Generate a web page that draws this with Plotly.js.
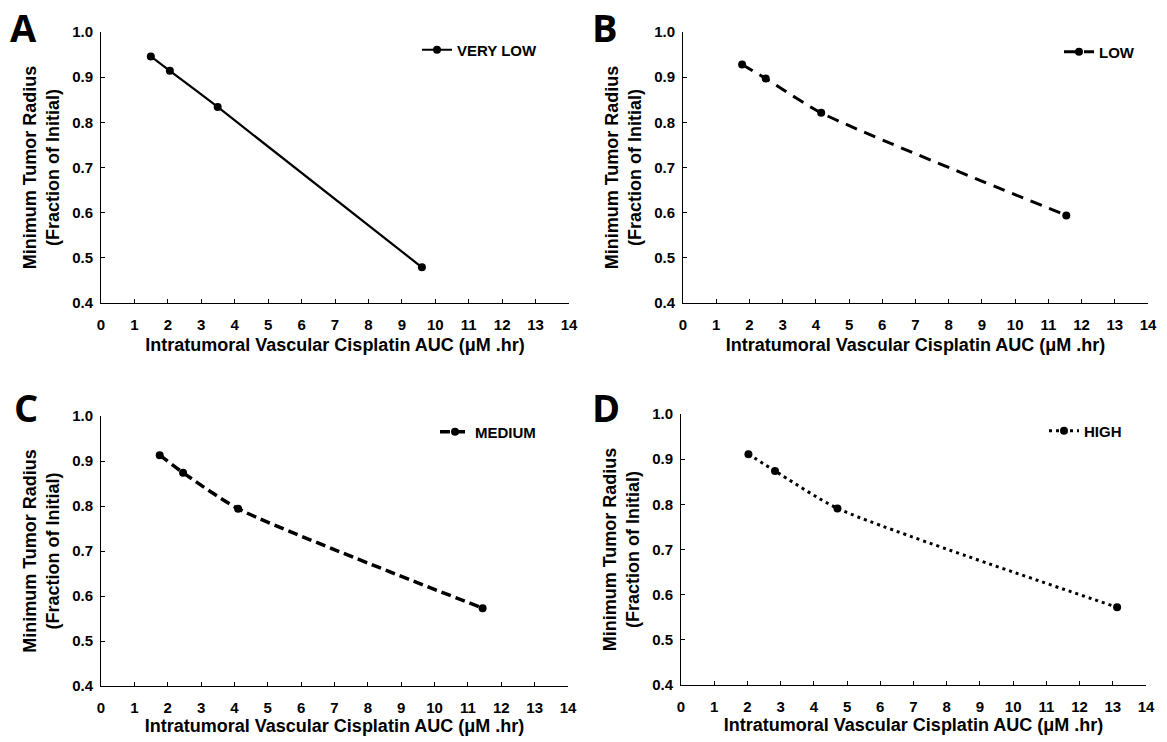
<!DOCTYPE html>
<html>
<head>
<meta charset="utf-8">
<script src="https://cdn.plot.ly/plotly-3.0.1.min.js"></script>
<style>html,body{margin:0;padding:0;background:#fff;}#chart{width:1167px;height:742px;}</style>
</head>
<body>
<div id="chart"></div>
<script>
// ---- data ----
const panelLetters = ["A", "B", "C", "D"];
const seriesNames = ["VERY LOW", "LOW", "MEDIUM", "HIGH"];

const veryLowX = [1.49, 2.06, 3.49, 9.60];
const veryLowY = [0.946, 0.914, 0.834, 0.479];

const lowX = [1.78, 2.49, 4.16, 11.54];
const lowY = [0.928, 0.897, 0.821, 0.594];

const mediumX = [1.76, 2.46, 4.11, 11.44];
const mediumY = [0.913, 0.874, 0.794, 0.573];

const highX = [2.03, 2.83, 4.71, 13.13];
const highY = [0.911, 0.874, 0.791, 0.572];

const xTickVals = [0,1,2,3,4,5,6,7,8,9,10,11,12,13,14];
const yTickVals = [0.4,0.5,0.6,0.7,0.8,0.9,1.0];

const xTitle = "Intratumoral Vascular Cisplatin AUC (μM .hr)";
const yTitle = "Minimum Tumor Radius<br>(Fraction of Initial)";

// ---- layout helpers ----
const W = 1167, H = 742;
const px = v => v / W;
const py = v => 1 - v / H;
const FONT = "Liberation Sans, Arial, sans-serif";

// plot boxes in pixels [left, right, top, bottom]
const boxes = [
  [101, 569, 32, 303],
  [683, 1148, 32, 303],
  [101, 568, 416, 686],
  [681, 1146, 414, 685]
];
const xTitleStandoff = [6, 6, 0, 0];

const xs = [veryLowX, lowX, mediumX, highX];
const ys = [veryLowY, lowY, mediumY, highY];
const lineStyles = [
  {color: "#000", width: 2.2, dash: "solid", shape: "spline", smoothing: 0.6},
  {color: "#000", width: 3, dash: "12px,8px", shape: "spline", smoothing: 0.6},
  {color: "#000", width: 3.5, dash: "10px,5px", shape: "spline", smoothing: 0.6},
  {color: "#000", width: 3, dash: "3px,4px", shape: "spline", smoothing: 0.6}
];
// legend text start (px) and vertical centre (px)
const legendPos = [[457, 50], [1099, 52], [475, 432], [1084, 431]];
const letterPos = [[23, 0], [605, 0], [26, 407], [606, 407]];

const traces = [];
const layout = {
  width: W, height: H,
  margin: {l: 0, r: 0, t: 0, b: 0},
  paper_bgcolor: "#fff",
  plot_bgcolor: "#fff",
  font: {family: FONT, color: "#000"},
  annotations: []
};

for (let i = 0; i < 4; i++) {
  const s = i === 0 ? "" : String(i + 1);
  const b = boxes[i];
  traces.push({
    type: "scatter",
    mode: "lines+markers",
    name: seriesNames[i],
    x: xs[i], y: ys[i],
    xaxis: "x" + s, yaxis: "y" + s,
    legend: "legend" + s,
    line: lineStyles[i],
    marker: {color: "#000", size: 8, symbol: "circle"},
    showlegend: true,
    hoverinfo: "x+y"
  });
  layout["xaxis" + s] = {
    domain: [px(b[0]), px(b[1])],
    anchor: "y" + s,
    range: [0, 14],
    tickvals: xTickVals,
    ticks: "inside", ticklen: 4, tickwidth: 1, tickcolor: "#000",
    ticklabelstandoff: 8,
    showline: true, linecolor: "#000", linewidth: 1,
    showgrid: false, zeroline: false,
    tickfont: {family: FONT, size: 15, weight: 700, color: "#000"},
    title: {text: xTitle, font: {family: FONT, size: 18, weight: 700, color: "#000"}, standoff: xTitleStandoff[i]}
  };
  layout["yaxis" + s] = {
    domain: [py(b[3]), py(b[2])],
    anchor: "x" + s,
    range: [0.4, 1.0],
    tickvals: yTickVals,
    tickformat: ".1f",
    ticks: "inside", ticklen: 4, tickwidth: 1, tickcolor: "#000",
    ticklabelstandoff: 4,
    showline: true, linecolor: "#000", linewidth: 1,
    showgrid: false, zeroline: false,
    tickfont: {family: FONT, size: 15, weight: 700, color: "#000"},
    title: {text: yTitle, font: {family: FONT, size: 18, weight: 700, color: "#000"}, standoff: 7}
  };
  layout["legend" + s] = {
    x: px(legendPos[i][0] - 40), y: py(legendPos[i][1]),
    xanchor: "left", yanchor: "middle",
    bgcolor: "rgba(0,0,0,0)", borderwidth: 0,
    font: {family: FONT, size: 15, weight: 700, color: "#000"}
  };
  const top = i < 2;
  layout.annotations.push({
    text: panelLetters[i],
    xref: "paper", yref: "paper",
    x: px(letterPos[i][0]), y: top ? 1 : py(letterPos[i][1]),
    xanchor: "center", yanchor: top ? "top" : "middle",
    borderpad: 0,
    showarrow: false,
    font: {family: "Open Sans, Liberation Sans, sans-serif", size: 38, weight: 700, color: "#000"}
  });
}

Plotly.newPlot("chart", traces, layout, {displayModeBar: false, staticPlot: true});
</script>
</body>
</html>
